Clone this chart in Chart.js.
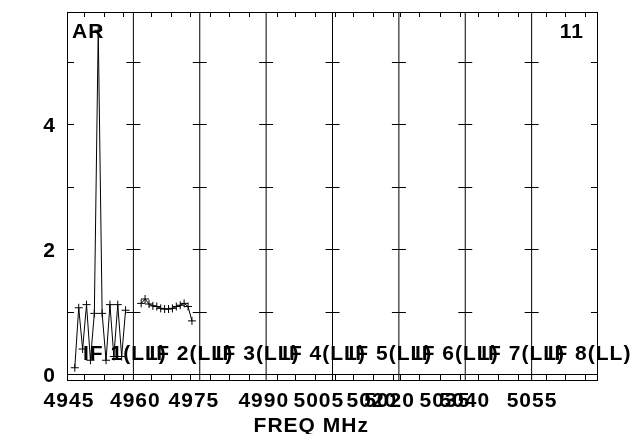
<!DOCTYPE html>
<html>
<head>
<meta charset="utf-8">
<script src="https://cdn.jsdelivr.net/npm/chart.js@4/dist/chart.umd.min.js"></script>
<style>
  html, body { margin: 0; padding: 0; background: #fff; }
  canvas { display: block; }
</style>
</head>
<body>
<canvas id="c" width="636" height="434"></canvas>
<script>
// Cross-power amplitude of baseline AR-11 over 8 IFs.
// The x axis runs over channel slots: each IF owns 17 slots, channels 2..15 carry data.
const SLOTS_PER_IF = 17;
const IF_COUNT = 8;

const ifNames = ['IF 1(LL)', 'IF 2(LL)', 'IF 3(LL)', 'IF 4(LL)', 'IF 5(LL)', 'IF 6(LL)', 'IF 7(LL)', 'IF 8(LL)'];

const if1Channels = [2, 3, 4, 5, 6, 7, 8, 9, 10, 11, 12, 13, 14, 15];
const if1Amp      = [0.10, 1.06, 0.40, 1.11, 0.22, 0.97, 5.50, 0.97, 0.22, 1.11, 0.28, 1.11, 0.28, 1.02];

const if2Channels = [2, 3, 4, 5, 6, 7, 8, 9, 10, 11, 12, 13, 14, 15];
const if2Amp      = [1.13, 1.20, 1.12, 1.09, 1.08, 1.05, 1.04, 1.04, 1.05, 1.08, 1.10, 1.13, 1.08, 0.85];

// amplitude axis
const ampTicks      = [0, 1, 2, 3, 4, 5];
const ampTickLabels = ['0', '', '2', '', '4', ''];

// frequency labels (MHz) and where they sit along the slot axis
const freqLabels    = ['4945', '4960', '4975', '4990', '5005', '5020', '5020', '5035', '5040', '5055'];
const freqLabelSlot = [0.5, 17.5, 32.5, 50.4, 64.5, 78.1, 82.6, 96.8, 101.9, 119.1];

// 5 MHz frequency tick marks along the slot axis
const freqTickSlots = [4.43, 9.55, 14.42, 21.52, 26.64, 31.51, 36.63, 41.57, 46.69,
                       53.71, 58.48, 63.52, 68.52, 73.33, 78.46, 83.58, 85.17, 90.24,
                       95.54, 100.66, 105.28, 110.48, 115.6, 122.7, 127.56, 132.68];

const baselineName = 'AR';
const baselineNum  = '11';
const xAxisTitle   = 'FREQ MHz';

const FONT = 'bold 21px "Liberation Sans", Arial, sans-serif';

const toPoints = (ifIndex, chans, amps) =>
  chans.map((c, i) => ({ x: ifIndex * SLOTS_PER_IF + c, y: amps[i] }));

const possmFrame = {
  id: 'possmFrame',
  beforeDatasetsDraw(chart) {
    const { ctx, chartArea: a, scales: { x, y } } = chart;
    ctx.save();
    ctx.strokeStyle = '#000';
    ctx.lineWidth = 1;

    // outer frame
    ctx.strokeRect(Math.round(a.left) + 0.5, Math.round(a.top) + 0.5,
                   Math.round(a.right - a.left) - 1, Math.round(a.bottom - a.top) - 1);

    // zero line, which also closes the frequency tick strip
    const y0 = Math.round(y.getPixelForValue(0)) + 0.5;
    ctx.beginPath();
    ctx.moveTo(a.left, y0); ctx.lineTo(a.right, y0);
    ctx.stroke();

    // IF separators
    ctx.beginPath();
    for (let k = 1; k < IF_COUNT; k++) {
      const px = x.getPixelForValue(k * SLOTS_PER_IF);
      ctx.moveTo(px, a.top); ctx.lineTo(px, a.bottom);
    }
    ctx.stroke();

    // frequency ticks: short marks under the top edge and through the bottom strip
    ctx.beginPath();
    freqTickSlots.forEach(s => {
      const px = Math.round(x.getPixelForValue(s)) + 0.5;
      ctx.moveTo(px, a.top); ctx.lineTo(px, a.top + 5);
      ctx.moveTo(px, y0); ctx.lineTo(px, a.bottom);
    });
    ctx.stroke();

    // amplitude ticks on the frame edges and across each IF separator
    ctx.beginPath();
    ampTicks.forEach(v => {
      if (v === 0) return;
      const py = Math.round(y.getPixelForValue(v)) + 0.5;
      ctx.moveTo(a.left, py); ctx.lineTo(a.left + 7, py);
      ctx.moveTo(a.right, py); ctx.lineTo(a.right - 7, py);
      for (let k = 1; k < IF_COUNT; k++) {
        const px = x.getPixelForValue(k * SLOTS_PER_IF);
        ctx.moveTo(px - 7, py); ctx.lineTo(px + 7, py);
      }
    });
    ctx.stroke();

    // text
    ctx.fillStyle = '#000';
    ctx.font = FONT;
    if ('letterSpacing' in ctx) ctx.letterSpacing = '1px';
    ctx.textBaseline = 'alphabetic';

    ctx.textAlign = 'right';
    ampTicks.forEach((v, i) => {
      if (!ampTickLabels[i]) return;
      ctx.fillText(ampTickLabels[i], a.left - 11, y.getPixelForValue(v) + 8);
    });

    ctx.textAlign = 'center';
    freqLabels.forEach((t, i) => {
      ctx.fillText(t, x.getPixelForValue(freqLabelSlot[i]), a.bottom + 26);
    });
    ctx.fillText(xAxisTitle, a.left + (a.right - a.left) * 0.46, a.bottom + 51);

    ctx.textAlign = 'left';
    ifNames.forEach((t, k) => {
      ctx.fillText(t, x.getPixelForValue(k * SLOTS_PER_IF) + 16, y.getPixelForValue(0) - 14);
    });
    ctx.fillText(baselineName, a.left + 5, a.top + 26);
    ctx.textAlign = 'right';
    ctx.fillText(baselineNum, a.right - 14, a.top + 26);
    ctx.restore();
  }
};

const lineStyle = {
  borderColor: '#000',
  borderWidth: 1,
  pointStyle: 'cross',
  pointRadius: 4,
  pointBorderColor: '#000',
  pointBorderWidth: 1,
  tension: 0,
  fill: false
};

new Chart(document.getElementById('c'), {
  type: 'line',
  data: {
    datasets: [
      { label: ifNames[0], data: toPoints(0, if1Channels, if1Amp), ...lineStyle },
      { label: ifNames[1], data: toPoints(1, if2Channels, if2Amp), ...lineStyle }
    ]
  },
  options: {
    responsive: false,
    animation: false,
    devicePixelRatio: 1,
    layout: { padding: { left: 67, right: 38, top: 12, bottom: 53 } },
    plugins: { legend: { display: false }, tooltip: { enabled: false } },
    scales: {
      x: { type: 'linear', min: 0, max: IF_COUNT * SLOTS_PER_IF, display: false },
      y: { type: 'linear', min: -0.112, max: 5.792, display: false }
    }
  },
  plugins: [possmFrame]
});
</script>
</body>
</html>
